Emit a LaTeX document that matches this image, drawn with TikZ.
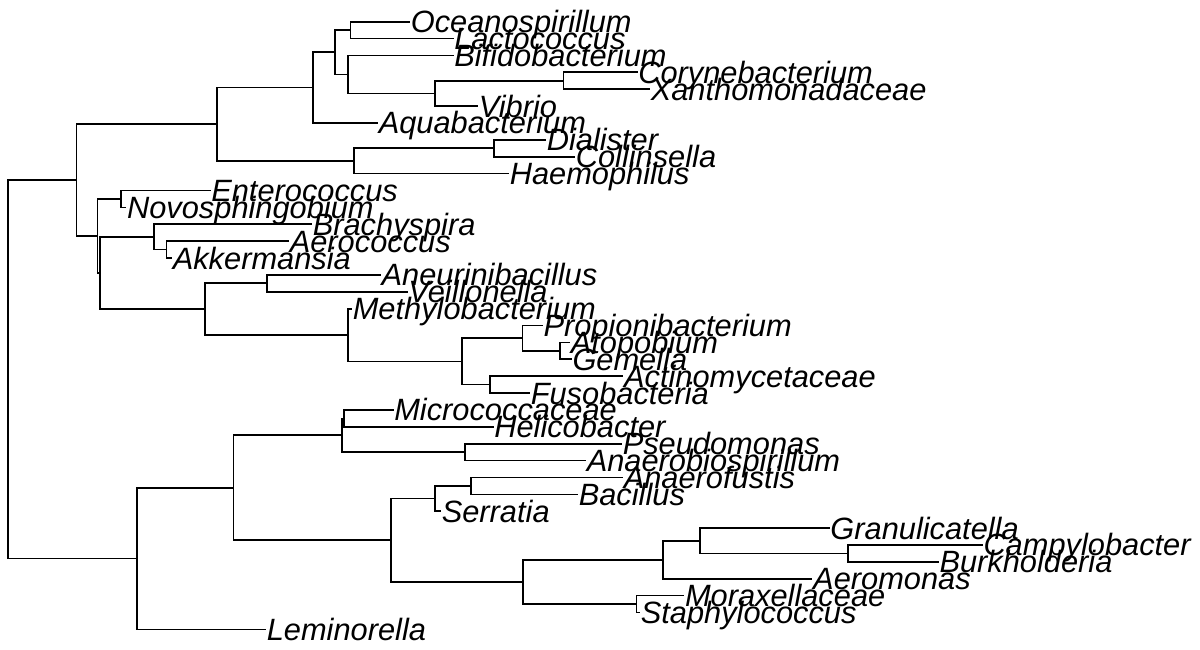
\documentclass[tikz,border=0pt]{standalone}
\usepackage{fontspec}
\setmainfont{Liberation Sans}
\newcommand\tiptaxon[4]{%
  \coordinate (#1) at (#2,#3);
  \node[tiplabel] (#1lab) at ([xshift=0.6pt,yshift=-11pt]#1) {#4};}
\begin{document}
\begin{tikzpicture}[x=1pt,y=-1pt,
  branch/.style={draw=black,line width=1.7pt},
  tiplabel/.style={anchor=base west,inner sep=0pt,font=\fontsize{30.8pt}{31pt}\selectfont\itshape}]
\useasboundingbox[fill=white] (0,0) rectangle (1200,649);
% ---- tips ----
\tiptaxon{t1}{410}{21.70}{Oceanospirillum}
\tiptaxon{t2}{453.5}{38.58}{Lactococcus}
\tiptaxon{t3}{453.5}{55.46}{Bifidobacterium}
\tiptaxon{t4}{637.5}{72.34}{Corynebacterium}
\tiptaxon{t5}{650}{89.22}{Xanthomonadaceae}
\tiptaxon{t6}{478}{106.10}{Vibrio}
\tiptaxon{t7}{378}{122.98}{Aquabacterium}
\tiptaxon{t8}{546}{139.86}{Dialister}
\tiptaxon{t9}{575}{156.74}{Collinsella}
\tiptaxon{t10}{509}{173.62}{Haemophilus}
\tiptaxon{t11}{210.5}{190.50}{Enterococcus}
\tiptaxon{t12}{126.3}{207.38}{Novosphingobium}
\tiptaxon{t13}{312}{224.26}{Brachyspira}
\tiptaxon{t14}{289}{241.14}{Aerococcus}
\tiptaxon{t15}{172}{258.02}{Akkermansia}
\tiptaxon{t16}{380.8}{274.90}{Aneurinibacillus}
\tiptaxon{t17}{407.6}{291.78}{Veillonella}
\tiptaxon{t18}{352}{308.66}{Methylobacterium}
\tiptaxon{t19}{542.7}{325.54}{Propionibacterium}
\tiptaxon{t20}{570}{342.42}{Atopobium}
\tiptaxon{t21}{571.7}{359.30}{Gemella}
\tiptaxon{t22}{623.3}{376.18}{Actinomycetaceae}
\tiptaxon{t23}{530}{393.06}{Fusobacteria}
\tiptaxon{t24}{393.5}{409.94}{Micrococcaceae}
\tiptaxon{t25}{493.5}{426.82}{Helicobacter}
\tiptaxon{t26}{622}{443.70}{Pseudomonas}
\tiptaxon{t27}{586}{460.58}{Anaerobiospirillum}
\tiptaxon{t28}{623}{477.46}{Anaerofustis}
\tiptaxon{t29}{578}{494.34}{Bacillus}
\tiptaxon{t30}{441}{511.22}{Serratia}
\tiptaxon{t31}{829.6}{528.10}{Granulicatella}
\tiptaxon{t32}{982.7}{544.98}{Campylobacter}
\tiptaxon{t33}{938.7}{561.86}{Burkholderia}
\tiptaxon{t34}{812.4}{578.74}{Aeromonas}
\tiptaxon{t35}{684.2}{595.62}{Moraxellaceae}
\tiptaxon{t36}{640}{612.50}{Staphylococcus}
\tiptaxon{t37}{266}{629.38}{Leminorella}
% ---- internal nodes ----
\coordinate (nE) at (350.5,30.14);
\coordinate (nCX) at (563.5,80.78);
\coordinate (nG) at (435,93.44);
\coordinate (nF) at (348.3,74.45);
\coordinate (nD) at (335,52.30);
\coordinate (nC) at (313.3,87.64);
\coordinate (nDC) at (493.7,148.30);
\coordinate (nH) at (354,160.96);
\coordinate (nB) at (216.7,124.30);
\coordinate (nEN) at (121,198.94);
\coordinate (nAA) at (166.5,249.58);
\coordinate (nB2) at (154.2,236.92);
\coordinate (nAV) at (266.7,283.34);
\coordinate (nAG) at (560,350.86);
\coordinate (nPAG) at (522.5,338.20);
\coordinate (nAF) at (490,384.62);
\coordinate (nPF) at (462,361.41);
\coordinate (nMM) at (348.3,335.04);
\coordinate (nT) at (204.7,309.19);
\coordinate (nS) at (100.3,273.06);
\coordinate (nR) at (97.6,236.00);
\coordinate (nA) at (76.4,180.15);
\coordinate (nW) at (344.3,418.38);
\coordinate (nPA) at (465,452.14);
\coordinate (nV) at (341.7,435.26);
\coordinate (nZ) at (470.7,485.90);
\coordinate (nY) at (435,498.56);
\coordinate (nCB) at (848,553.42);
\coordinate (nGCB) at (700.3,540.76);
\coordinate (nKK) at (663.1,559.75);
\coordinate (nMS) at (636.4,604.06);
\coordinate (nK) at (523,581.91);
\coordinate (nX) at (390.8,540.24);
\coordinate (nU) at (233.4,487.75);
\coordinate (nL) at (137,558.57);
\coordinate (root) at (8.3,369.36);
% ---- branches ----
\draw[branch] (root) |- (nA);
\draw[branch] (root) |- (nL);
\draw[branch] (nA) |- (nB);
\draw[branch] (nA) |- (nR);
\draw[branch] (nB) |- (nC);
\draw[branch] (nB) |- (nH);
\draw[branch] (nC) |- (nD);
\draw[branch] (nC) |- (t7);
\draw[branch] (nD) |- (nE);
\draw[branch] (nD) |- (nF);
\draw[branch] (nE) |- (t1);
\draw[branch] (nE) |- (t2);
\draw[branch] (nF) |- (t3);
\draw[branch] (nF) |- (nG);
\draw[branch] (nG) |- (nCX);
\draw[branch] (nG) |- (t6);
\draw[branch] (nCX) |- (t4);
\draw[branch] (nCX) |- (t5);
\draw[branch] (nH) |- (nDC);
\draw[branch] (nH) |- (t10);
\draw[branch] (nDC) |- (t8);
\draw[branch] (nDC) |- (t9);
\draw[branch] (nR) |- (nEN);
\draw[branch] (nR) |- (nS);
\draw[branch] (nEN) |- (t11);
\draw[branch] (nEN) |- (t12);
\draw[branch] (nS) |- (nB2);
\draw[branch] (nS) |- (nT);
\draw[branch] (nB2) |- (t13);
\draw[branch] (nB2) |- (nAA);
\draw[branch] (nAA) |- (t14);
\draw[branch] (nAA) |- (t15);
\draw[branch] (nT) |- (nAV);
\draw[branch] (nT) |- (nMM);
\draw[branch] (nAV) |- (t16);
\draw[branch] (nAV) |- (t17);
\draw[branch] (nMM) |- (t18);
\draw[branch] (nMM) |- (nPF);
\draw[branch] (nPF) |- (nPAG);
\draw[branch] (nPF) |- (nAF);
\draw[branch] (nPAG) |- (t19);
\draw[branch] (nPAG) |- (nAG);
\draw[branch] (nAG) |- (t20);
\draw[branch] (nAG) |- (t21);
\draw[branch] (nAF) |- (t22);
\draw[branch] (nAF) |- (t23);
\draw[branch] (nL) |- (nU);
\draw[branch] (nL) |- (t37);
\draw[branch] (nU) |- (nV);
\draw[branch] (nU) |- (nX);
\draw[branch] (nV) |- (nW);
\draw[branch] (nV) |- (nPA);
\draw[branch] (nW) |- (t24);
\draw[branch] (nW) |- (t25);
\draw[branch] (nPA) |- (t26);
\draw[branch] (nPA) |- (t27);
\draw[branch] (nX) |- (nY);
\draw[branch] (nX) |- (nK);
\draw[branch] (nY) |- (nZ);
\draw[branch] (nY) |- (t30);
\draw[branch] (nZ) |- (t28);
\draw[branch] (nZ) |- (t29);
\draw[branch] (nK) |- (nKK);
\draw[branch] (nK) |- (nMS);
\draw[branch] (nKK) |- (nGCB);
\draw[branch] (nKK) |- (t34);
\draw[branch] (nGCB) |- (t31);
\draw[branch] (nGCB) |- (nCB);
\draw[branch] (nCB) |- (t32);
\draw[branch] (nCB) |- (t33);
\draw[branch] (nMS) |- (t35);
\draw[branch] (nMS) |- (t36);
\end{tikzpicture}
\end{document}
